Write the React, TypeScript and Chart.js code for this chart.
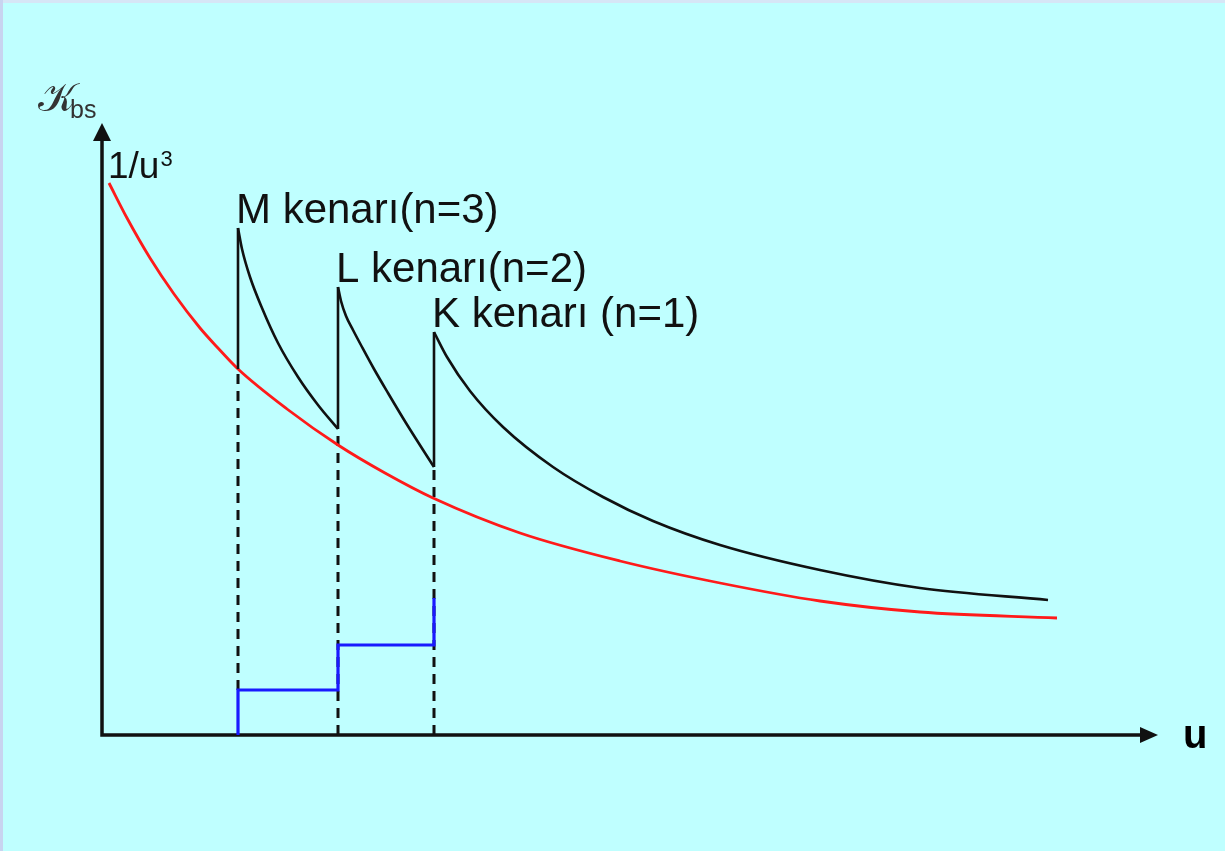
import React, { useEffect, useRef } from "react";
import { Chart, registerables } from "chart.js";

Chart.register(...registerables);

// Axis extents (arbitrary units)
const X_MAX = 10.56;
const Y_MAX = 6.12;

// Red 1/u^3 curve
const redU = [0.07, 0.25, 0.48, 0.72, 0.98, 1.15, 1.36, 1.85, 2.36, 2.83, 3.31, 4.18, 5.18, 6.18, 7.18, 8.18, 9.55];
const redK = [5.52, 5.17, 4.77, 4.41, 4.07, 3.88, 3.66, 3.26, 2.9, 2.62, 2.37, 2.02, 1.74, 1.52, 1.34, 1.23, 1.17];

// Absorption edges
const edgeU = [1.36, 2.36, 3.32];
const edgeBottom = [3.66, 3.06, 2.68];
const edgePeak = [5.07, 4.48, 4.03];
const edgeLabels = ["M kenarı(n=3)", "L kenarı(n=2)", "K kenarı (n=1)"];

// Decay branches after each edge
const mDecayU = [1.36, 1.4, 1.48, 1.6, 1.76, 1.96, 2.16, 2.36];
const mDecayK = [5.07, 4.86, 4.58, 4.27, 3.92, 3.58, 3.3, 3.06];
const lDecayU = [2.36, 2.39, 2.44, 2.51, 2.6, 2.72, 2.86, 3.04, 3.32];
const lDecayK = [4.48, 4.34, 4.19, 4.05, 3.88, 3.66, 3.42, 3.12, 2.68];
const kDecayU = [3.32, 3.45, 3.68, 4.01, 4.51, 5.01, 5.51, 6.18, 7.18, 8.18, 9.46];
const kDecayK = [4.03, 3.78, 3.44, 3.08, 2.68, 2.38, 2.14, 1.9, 1.65, 1.47, 1.35];

// Blue step (shell index)
const stepU = [1.36, 1.36, 2.36, 2.36, 3.32, 3.32];
const stepK = [0, 0.45, 0.45, 0.9, 0.9, 1.37];

// Dashed guide lines bottoms
const dashBottom = [0.45, 0, 0];

const yLabelMain = "𝒦";
const yLabelSub = "bs";
const curveLabel = "1/u";
const curveLabelSup = "3";
const xLabel = "u";

const BLACK = "#111111";
const RED = "#FF1A1A";
const BLUE = "#1A1AFF";

const zip = (xs: number[], ys: number[]) => xs.map((x, i) => ({ x, y: ys[i] }));

export default function App() {
  const ref = useRef<HTMLCanvasElement | null>(null);

  useEffect(() => {
    document.body.style.margin = "0";
    document.body.style.background = "#BFFFFF";
    const canvas = ref.current;
    if (!canvas) return;

    // lower "order" is painted on top
    const datasets: any[] = [];
    // dashed guides (bottom layer)
    edgeU.forEach((u, i) => {
      datasets.push({
        order: 10,
        data: [
          { x: u, y: dashBottom[i] },
          { x: u, y: edgeBottom[i] },
        ],
        borderColor: BLACK,
        borderWidth: 3,
        borderDash: [10, 7],
        pointRadius: 0,
        tension: 0,
      });
    });
    // red curve
    datasets.push({
      order: 8,
      data: zip(redU, redK),
      borderColor: RED,
      borderWidth: 2.8,
      pointRadius: 0,
      cubicInterpolationMode: "monotone",
    });
    // vertical edges
    edgeU.forEach((u, i) => {
      datasets.push({
        order: 6,
        data: [
          { x: u, y: edgeBottom[i] },
          { x: u, y: edgePeak[i] },
        ],
        borderColor: BLACK,
        borderWidth: 2.6,
        pointRadius: 0,
        tension: 0,
      });
    });
    // decays
    [
      [mDecayU, mDecayK],
      [lDecayU, lDecayK],
      [kDecayU, kDecayK],
    ].forEach(([us, ks]) => {
      datasets.push({
        order: 5,
        data: zip(us, ks),
        borderColor: BLACK,
        borderWidth: 2.6,
        pointRadius: 0,
        cubicInterpolationMode: "monotone",
      });
    });
    // blue step (top layer)
    datasets.push({
      order: 0,
      data: zip(stepU, stepK),
      borderColor: BLUE,
      borderWidth: 3.2,
      pointRadius: 0,
      tension: 0,
    });

    const decor = {
      id: "decor",
      beforeDraw(chart: any) {
        const ctx = chart.ctx;
        ctx.save();
        ctx.fillStyle = "#BFFFFF";
        ctx.fillRect(0, 0, chart.width, chart.height);
        ctx.fillStyle = "#D6E6F6";
        ctx.fillRect(0, 0, chart.width, 3);
        ctx.fillStyle = "#C8D4F0";
        ctx.fillRect(0, 0, 3, chart.height);
        ctx.restore();
      },
      beforeDatasetsDraw(chart: any) {
        const ctx = chart.ctx;
        const xs = chart.scales.x;
        const ys = chart.scales.y;
        const x0 = xs.getPixelForValue(0);
        const y0 = ys.getPixelForValue(0);
        const yTip = ys.getPixelForValue(Y_MAX);
        const xTip = xs.getPixelForValue(X_MAX);
        ctx.save();
        ctx.strokeStyle = BLACK;
        ctx.fillStyle = BLACK;
        ctx.lineWidth = 3.5;
        ctx.lineCap = "butt";
        ctx.beginPath();
        ctx.moveTo(x0, yTip + 12);
        ctx.lineTo(x0, y0);
        ctx.lineTo(xTip - 12, y0);
        ctx.stroke();
        // y arrow
        ctx.beginPath();
        ctx.moveTo(x0, yTip);
        ctx.lineTo(x0 - 9, yTip + 18);
        ctx.lineTo(x0 + 9, yTip + 18);
        ctx.closePath();
        ctx.fill();
        // x arrow
        ctx.beginPath();
        ctx.moveTo(xTip, y0);
        ctx.lineTo(xTip - 18, y0 - 8);
        ctx.lineTo(xTip - 18, y0 + 8);
        ctx.closePath();
        ctx.fill();
        ctx.restore();
      },
      afterDraw(chart: any) {
        const ctx = chart.ctx;
        const xs = chart.scales.x;
        const ys = chart.scales.y;
        const x0 = xs.getPixelForValue(0);
        const y0 = ys.getPixelForValue(0);
        const yTip = ys.getPixelForValue(Y_MAX);
        const xTip = xs.getPixelForValue(X_MAX);
        ctx.save();
        ctx.fillStyle = "#111111";
        ctx.textAlign = "left";
        ctx.textBaseline = "alphabetic";
        // edge labels
        ctx.font = "42px 'Liberation Sans', Arial, sans-serif";
        edgeU.forEach((u, i) => {
          const px = xs.getPixelForValue(u);
          const py = ys.getPixelForValue(edgePeak[i]);
          ctx.fillText(edgeLabels[i], px - 2, py - 5);
        });
        // 1/u^3
        const ry = ys.getPixelForValue(redK[0]);
        ctx.font = "37px 'Liberation Sans', Arial, sans-serif";
        ctx.fillText(curveLabel, x0 + 6, ry - 5);
        const w = ctx.measureText(curveLabel).width;
        ctx.font = "22px 'Liberation Sans', Arial, sans-serif";
        ctx.fillText(curveLabelSup, x0 + 6 + w + 1, ry - 17);
        // y label
        ctx.fillStyle = "#333333";
        ctx.font = "40px 'DejaVu Serif', serif";
        ctx.fillText(yLabelMain, x0 - 64, yTip - 12);
        ctx.font = "25px 'Liberation Sans', Arial, sans-serif";
        ctx.fillText(yLabelSub, x0 - 32, yTip - 5);
        // x label
        ctx.fillStyle = "#000000";
        ctx.font = "bold 40px 'Liberation Sans', Arial, sans-serif";
        ctx.fillText(xLabel, xTip + 25, y0 + 13);
        ctx.restore();
      },
    };

    const chart = new Chart(canvas, {
      type: "line",
      data: { datasets },
      options: {
        animation: false,
        responsive: false,
        maintainAspectRatio: false,
        layout: { padding: { left: 102, right: 67, top: 123, bottom: 116 } },
        plugins: { legend: { display: false }, tooltip: { enabled: false } },
        scales: {
          x: { type: "linear", min: 0, max: X_MAX, display: false },
          y: { type: "linear", min: 0, max: Y_MAX, display: false },
        },
        elements: { line: { fill: false } },
      },
      plugins: [decor],
    });
    return () => chart.destroy();
  }, []);

  return (
    <div style={{ width: 1225, height: 851 }}>
      <canvas ref={ref} width={1225} height={851} style={{ display: "block" }} />
    </div>
  );
}
